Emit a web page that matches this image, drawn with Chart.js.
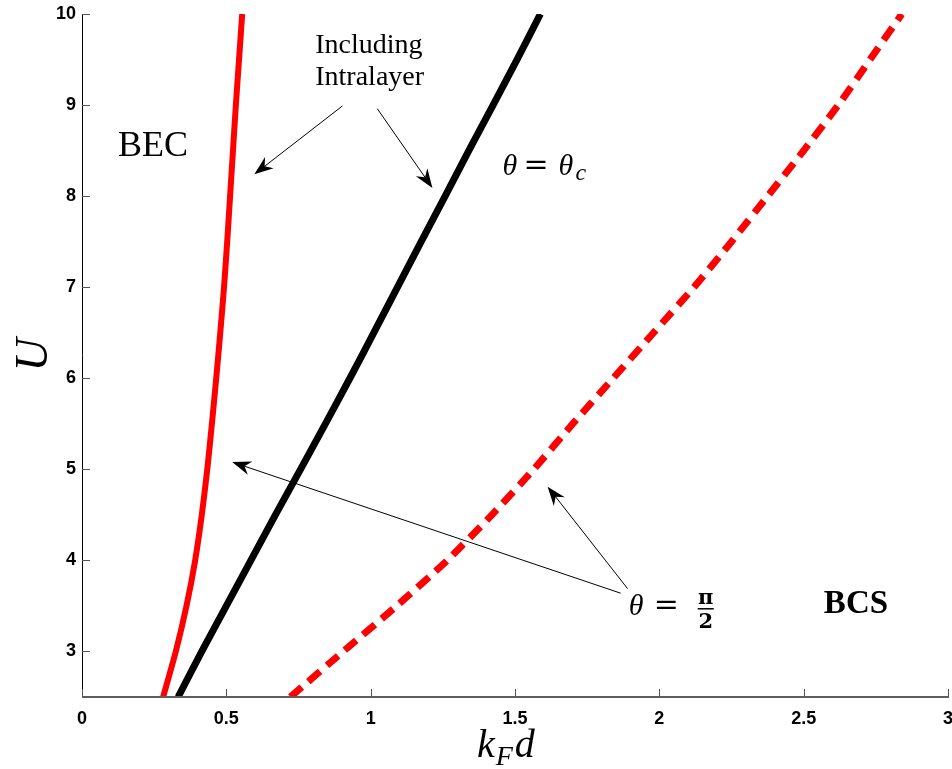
<!DOCTYPE html>
<html>
<head>
<meta charset="utf-8">
<title>U vs kFd phase boundaries</title>
<script src="https://cdn.jsdelivr.net/npm/chart.js@4.4.1/dist/chart.umd.min.js"></script>
<style>
  html, body { margin: 0; padding: 0; background: #fff; }
  #wrap { width: 952px; height: 769px; }
</style>
</head>
<body>
<div id="wrap"><canvas id="phaseChart" width="952" height="769"></canvas></div>
<script>
// interaction strength U shared by all three boundary curves
var uGrid = [2.5, 3, 3.5, 4, 4.5, 5, 5.5, 6, 6.5, 7, 7.5, 8, 8.5, 9, 9.5, 10];
// kF*d on the boundary: theta = pi/2 including the intralayer term
var kdHalfPiIntra = [0.281, 0.325, 0.362, 0.392, 0.415, 0.434, 0.450, 0.465, 0.479, 0.492, 0.503, 0.513, 0.523, 0.533, 0.544, 0.555];
// theta = theta_c including the intralayer term
var kdCritical = [0.333, 0.415, 0.500, 0.585, 0.670, 0.757, 0.843, 0.928, 1.011, 1.093, 1.175, 1.258, 1.340, 1.424, 1.507, 1.588];
// theta = pi/2 without the intralayer term
var kdHalfPi = [0.722, 0.905, 1.090, 1.265, 1.420, 1.565, 1.700, 1.840, 1.980, 2.120, 2.250, 2.375, 2.500, 2.620, 2.730, 2.840];

var xTicks = [0, 0.5, 1, 1.5, 2, 2.5, 3];
var yTicks = [3, 4, 5, 6, 7, 8, 9, 10];

// arrows as [fromX, fromU, toX, toU]
var arrows = [
    [0.902, 8.99, 0.597, 8.24],
    [1.023, 8.96, 1.214, 8.09],
    [1.866, 3.64, 0.520, 5.08],
    [1.890, 3.69, 1.613, 4.81]
];

function toPoints(xs) {
    return uGrid.map(function (u, i) { return { x: xs[i], y: u }; });
}

function drawArrow(ctx, x0, y0, x1, y1) {
    var ang = Math.atan2(y1 - y0, x1 - x0);
    var len = 19, half = 7, notch = 13;
    ctx.strokeStyle = '#000';
    ctx.fillStyle = '#000';
    ctx.lineWidth = 1;
    ctx.beginPath();
    ctx.moveTo(x0, y0);
    ctx.lineTo(x1 - Math.cos(ang) * 6, y1 - Math.sin(ang) * 6);
    ctx.stroke();
    ctx.save();
    ctx.translate(x1, y1);
    ctx.rotate(ang);
    ctx.beginPath();
    ctx.moveTo(0, 0);
    ctx.lineTo(-len, -half);
    ctx.lineTo(-notch, 0);
    ctx.lineTo(-len, half);
    ctx.closePath();
    ctx.fill();
    ctx.restore();
}

var decorations = {
    id: 'decorations',
    afterDraw: function (chart) {
        var ctx = chart.ctx;
        var xs = chart.scales.x;
        var ys = chart.scales.y;
        var area = chart.chartArea;
        ctx.save();

        // axes
        ctx.strokeStyle = '#000';
        ctx.lineWidth = 1;
        ctx.beginPath();
        ctx.moveTo(area.left + 0.5, area.top);
        ctx.lineTo(area.left + 0.5, area.bottom);
        ctx.stroke();
        ctx.strokeStyle = '#5e5e5e';
        ctx.lineWidth = 2;
        ctx.beginPath();
        ctx.moveTo(area.left, area.bottom);
        ctx.lineTo(area.right + 1, area.bottom);
        ctx.stroke();

        // inward tick marks
        ctx.lineWidth = 1;
        ctx.strokeStyle = '#555';
        yTicks.forEach(function (v) {
            var py = Math.round(ys.getPixelForValue(v)) + 0.5;
            ctx.beginPath();
            ctx.moveTo(area.left, py);
            ctx.lineTo(area.left + 8, py);
            ctx.stroke();
        });
        xTicks.forEach(function (v) {
            var px = Math.round(xs.getPixelForValue(v)) + 0.5;
            ctx.beginPath();
            ctx.moveTo(px, area.bottom);
            ctx.lineTo(px, area.bottom - 8);
            ctx.stroke();
        });

        // arrows
        arrows.forEach(function (a) {
            drawArrow(ctx, xs.getPixelForValue(a[0]), ys.getPixelForValue(a[1]),
                xs.getPixelForValue(a[2]), ys.getPixelForValue(a[3]));
        });

        ctx.fillStyle = '#000';
        ctx.textBaseline = 'alphabetic';
        ctx.textAlign = 'left';

        // region labels
        ctx.font = '36px "Liberation Serif"';
        ctx.fillText('BEC', xs.getPixelForValue(0.125), ys.getPixelForValue(8.44));
        ctx.font = 'bold 33px "Liberation Serif"';
        ctx.fillText('BCS', xs.getPixelForValue(2.57), ys.getPixelForValue(3.42));

        ctx.font = '28px "Liberation Serif"';
        ctx.fillText('Including', xs.getPixelForValue(0.808), ys.getPixelForValue(9.57));
        ctx.fillText('Intralayer', xs.getPixelForValue(0.808), ys.getPixelForValue(9.22));

        // theta = theta_c
        var tx = xs.getPixelForValue(1.457), tb = ys.getPixelForValue(8.23);
        ctx.font = 'italic 30px "Liberation Serif"';
        ctx.fillText('\u03b8', tx, tb);
        ctx.font = '30px "DejaVu Serif"';
        ctx.fillText('=', tx + 21, tb - 1);
        ctx.font = 'italic 30px "Liberation Serif"';
        ctx.fillText('\u03b8', tx + 56, tb);
        ctx.font = 'italic 24px "Liberation Serif"';
        ctx.fillText('c', tx + 73, tb + 5);

        // theta = pi/2
        var px2 = xs.getPixelForValue(1.894), pb = ys.getPixelForValue(3.40);
        ctx.font = 'italic 30px "Liberation Serif"';
        ctx.fillText('\u03b8', px2, pb);
        ctx.font = '30px "DejaVu Serif"';
        ctx.fillText('=', px2 + 25, pb - 1);
        ctx.textAlign = 'center';
        ctx.font = 'bold 21px "DejaVu Serif"';
        ctx.fillText('\u03c0', px2 + 77, pb - 11);
        ctx.fillText('2', px2 + 77, pb + 13);
        ctx.fillRect(px2 + 69, pb - 7, 16, 1.5);

        // axis titles
        ctx.textAlign = 'left';
        ctx.font = 'italic 40px "Liberation Serif"';
        var kx = 477, kb = 757;
        ctx.fillText('k', kx, kb);
        var kw = ctx.measureText('k').width;
        ctx.font = 'italic 28px "Liberation Serif"';
        ctx.fillText('F', kx + kw + 1, kb + 8);
        var fw = ctx.measureText('F').width;
        ctx.font = 'italic 40px "Liberation Serif"';
        ctx.fillText('d', kx + kw + fw + 3, kb);

        ctx.save();
        ctx.translate(47, 355);
        ctx.rotate(-Math.PI / 2);
        ctx.textAlign = 'center';
        ctx.font = 'italic 46px "Liberation Serif"';
        ctx.fillText('U', 0, 0);
        ctx.restore();

        ctx.restore();
    }
};

var tickFont = { family: '"Liberation Sans", Arial, sans-serif', size: 18, weight: 'bold' };

new Chart(document.getElementById('phaseChart').getContext('2d'), {
    type: 'scatter',
    data: {
        datasets: [{
            label: 'theta = pi/2',
            data: toPoints(kdHalfPi),
            showLine: true,
            borderColor: '#ff0000',
            borderWidth: 7,
            borderDash: [15, 9],
            borderCapStyle: 'butt',
            tension: 0.2,
            pointRadius: 0
        }, {
            label: 'theta = theta_c',
            data: toPoints(kdCritical),
            showLine: true,
            borderColor: '#000000',
            borderWidth: 7,
            tension: 0.2,
            pointRadius: 0
        }, {
            label: 'theta = pi/2, intralayer',
            data: toPoints(kdHalfPiIntra),
            showLine: true,
            borderColor: '#ff0000',
            borderWidth: 6,
            tension: 0.2,
            pointRadius: 0
        }]
    },
    options: {
        responsive: false,
        animation: false,
        events: [],
        layout: { padding: { top: 14, right: 4, left: 0, bottom: 0 } },
        plugins: {
            legend: { display: false },
            tooltip: { enabled: false }
        },
        scales: {
            x: {
                type: 'linear',
                min: 0,
                max: 3,
                afterBuildTicks: function (s) {
                    s.ticks = xTicks.map(function (v) { return { value: v }; });
                },
                afterFit: function (s) {
                    s.height = 72;
                    s.paddingLeft = 0;
                    s.paddingRight = 0;
                },
                grid: { display: false, drawTicks: false },
                border: { display: false },
                ticks: {
                    color: '#000', font: tickFont, padding: 11, maxRotation: 0,
                    callback: function (v) { return String(v); }
                }
            },
            y: {
                type: 'linear',
                min: 2.5,
                max: 10,
                afterBuildTicks: function (s) {
                    s.ticks = yTicks.map(function (v) { return { value: v }; });
                },
                afterFit: function (s) {
                    s.width = 82;
                    s.paddingTop = 0;
                    s.paddingBottom = 0;
                },
                grid: { display: false, drawTicks: false },
                border: { display: false },
                ticks: {
                    color: '#000', font: tickFont, padding: 6,
                    callback: function (v) { return String(v); }
                }
            }
        }
    },
    plugins: [decorations]
});
</script>
</body>
</html>
